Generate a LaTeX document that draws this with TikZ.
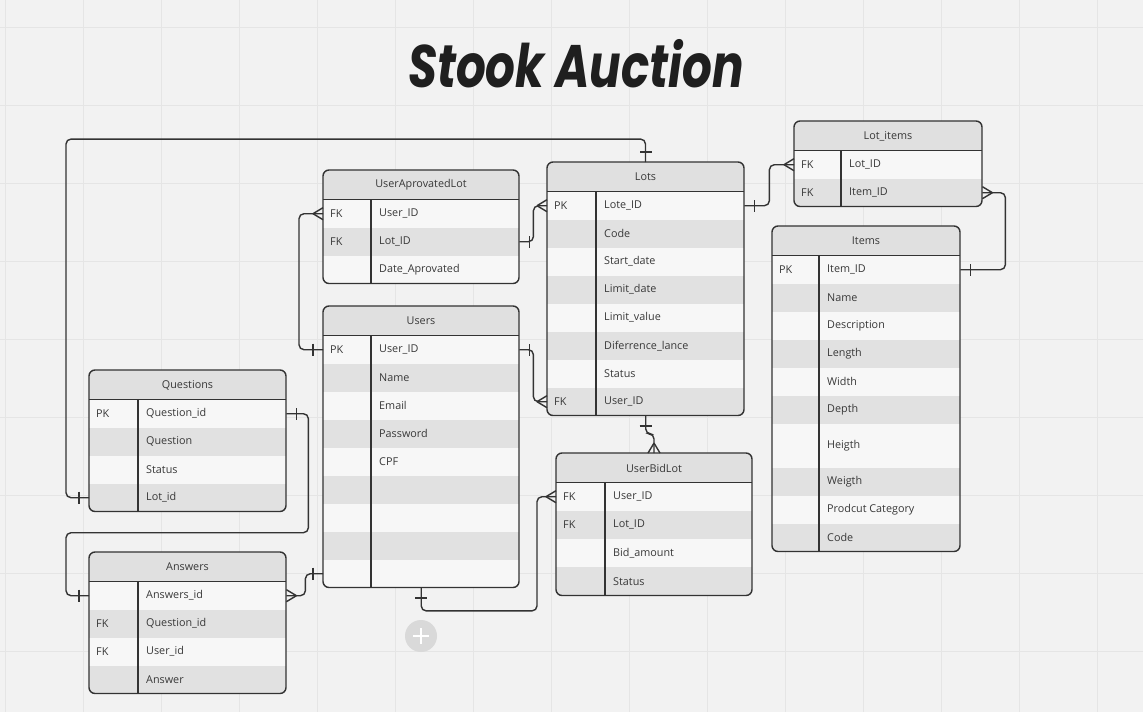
\documentclass[tikz,border=0pt]{standalone}
\usepackage{fontspec}
\setmainfont{Open Sans}
\newfontfamily\titlefont{Poppins}
\usetikzlibrary{positioning}
\definecolor{bgcol}{HTML}{F2F2F2}
\definecolor{gridcol}{HTML}{E5E5E5}
\definecolor{linecol}{HTML}{333333}
\definecolor{rowlight}{HTML}{F7F7F7}
\definecolor{rowdark}{HTML}{E1E1E1}
\definecolor{headcol}{HTML}{E0E0E0}
\definecolor{txtcol}{HTML}{383838}
\definecolor{btncol}{HTML}{D9D9D9}

\tikzset{
  erline/.style={draw=linecol, line width=1.4pt},
  conn/.style={draw=linecol, line width=1.4pt, rounded corners=5pt},
  erhead/.style={minimum height=29.5pt, inner sep=0pt, font=\fontsize{10.8}{12}\selectfont, text=txtcol},
  errow/.style={inner sep=0pt, draw=none},
  ertext/.style={anchor=west, inner sep=0pt, font=\fontsize{10.8}{12}\selectfont, text=txtcol},
  one/.pic={\draw[erline] (-10,-6) -- (-10,6);},
  many/.pic={\draw[erline] (-10,0) -- (0,-6) (-10,0) -- (0,6);},
}

% table: name, left, top, width, key column, title, rows key/field/height
\newcommand{\erdtable}[7]{%
  \pgfmathsetmacro\headbot{#3+29.5}%
  \xdef\rowtop{\headbot}%
  \foreach \k/\f/\h in {#7} {\pgfmathsetmacro\nexttop{\rowtop+\h}\xdef\rowtop{\nexttop}}%
  \let\tabbot\rowtop
  \begin{scope}
    \clip[rounded corners=6pt] (#2,#3) rectangle (#2+#4,\tabbot);
    \fill[headcol] (#2,#3) rectangle (#2+#4,\headbot);
    \xdef\rowtop{\headbot}%
    \foreach \k/\f/\h [count=\i] in {#7} {
      \ifodd\i\relax\def\rowcol{rowlight}\else\def\rowcol{rowdark}\fi
      \node[errow, anchor=north west, minimum width=#4, minimum height=\h, fill=\rowcol] (#1-\i) at (#2,\rowtop) {};
      \node[ertext] at ([xshift=7]#1-\i.west) {\k};
      \node[ertext] at ([xshift=#5+8]#1-\i.west) {\f};
      \pgfmathsetmacro\nexttop{\rowtop+\h}\xdef\rowtop{\nexttop}
    }
  \end{scope}
  \node[erhead, minimum width=#4] (#1) at (#2+#4/2,#3+15) {#6};
  \draw[erline, rounded corners=6pt] (#2,#3) rectangle (#2+#4,\tabbot);
  \draw[erline] (#2,\headbot) -- (#2+#4,\headbot);
  \draw[erline] (#2+#5,\headbot) -- (#2+#5,\tabbot);
}

\begin{document}
\begin{tikzpicture}[x=1pt, y=-1pt]
  \fill[bgcol] (0,0) rectangle (1143,712);
  \useasboundingbox (0,0) rectangle (1143,712);
  \foreach \g in {5,83,...,1097} \draw[gridcol, line width=1pt] (\g,0) -- (\g,712);
  \foreach \g in {27,105,...,651} \draw[gridcol, line width=1pt] (0,\g) -- (1143,\g);

  \node[font=\titlefont\bfseries\itshape\fontsize{60}{60}\selectfont, text=black!88] (title) at (576,64) {\scalebox{0.78}[1]{Stook Auction}};

  \erdtable{ual}{323}{170}{196}{48}{UserAprovatedLot}{FK/User\_ID/28, FK/Lot\_ID/28, /Date\_Aprovated/28}
  \erdtable{lots}{547}{162}{197}{49}{Lots}{PK/Lote\_ID/28, /Code/28, /Start\_date/28, /Limit\_date/28, /Limit\_value/28, /Diferrence\_lance/28, /Status/28, FK/User\_ID/28}
  \erdtable{users}{323}{306}{196}{48}{Users}{PK/User\_ID/28, /Name/28, /Email/28, /Password/28, /CPF/28, //28, //28, //28, //28}
  \erdtable{questions}{89}{370}{197}{49}{Questions}{PK/Question\_id/28, /Question/28, /Status/28, /Lot\_id/28}
  \erdtable{answers}{89}{552}{197}{49}{Answers}{/Answers\_id/28, FK/Question\_id/28, FK/User\_id/28, /Answer/28}
  \erdtable{ubl}{556}{453}{196}{49}{UserBidLot}{FK/User\_ID/28, FK/Lot\_ID/28, /Bid\_amount/28.5, /Status/28.5}
  \erdtable{lotitems}{794}{121}{188}{47}{Lot\_items}{FK/Lot\_ID/28, FK/Item\_ID/28}
  \erdtable{items}{772}{226}{188}{47}{Items}{PK/Item\_ID/28, /Name/28, /Description/28, /Length/28, /Width/28, /Depth/28, /Heigth/44, /Weigth/28, /Prodcut Category/28, /Code/28}

  % relations
  \draw[conn] (lots.north) -- ++(0,-23) -| ([xshift=-23]questions-4.west) -- (questions-4.west);
  \pic[rotate=-90] at (lots.north) {one};
  \pic at (questions-4.west) {one};

  \draw[conn] (ual-1.west) -- ++(-24,0) |- (users-1.west);
  \pic at (ual-1.west) {many};
  \pic at (users-1.west) {one};

  \draw[conn] (ual-2.east) -- ++(14,0) |- (lots-1.west);
  \pic[rotate=180] at (ual-2.east) {one};
  \pic at (lots-1.west) {many};

  \draw[conn] (users-1.east) -- ++(14,0) |- (lots-8.west);
  \pic[rotate=180] at (users-1.east) {one};
  \pic at (lots-8.west) {many};

  \draw[conn] (lots-1.east) -- ++(25,0) |- (lotitems-1.west);
  \pic[rotate=180] at (lots-1.east) {one};
  \pic at (lotitems-1.west) {many};

  \draw[conn] (lotitems-2.east) -- ++(23,0) |- (items-1.east);
  \pic[rotate=180] at (lotitems-2.east) {many};
  \pic[rotate=180] at (items-1.east) {one};

  \draw[conn] (lots-8.south) -- ++(0,18) -| (ubl.north);
  \pic[rotate=90] at (lots-8.south) {one};
  \pic[rotate=-90] at (ubl.north) {many};

  \draw[conn] (users-9.south) -- ++(0,23) -| ([xshift=-19]ubl-1.west) -- (ubl-1.west);
  \pic[rotate=90] at (users-9.south) {one};
  \pic at (ubl-1.west) {many};

  \draw[conn] (questions-1.east) -- ++(22,0) -- ++(0,119) -| ([xshift=-23]answers-1.west) -- (answers-1.west);
  \pic[rotate=180] at (questions-1.east) {one};
  \pic at (answers-1.west) {one};

  \draw[conn] (answers-1.east) -- ++(19,0) |- (users-9.west);
  \pic[rotate=180] at (answers-1.east) {many};
  \pic at (users-9.west) {one};

  % add button
  \node[circle, fill=btncol, minimum size=32pt, inner sep=0pt] (addbtn) at (421,636) {};
  \draw[white, line width=2pt] ([xshift=-8]addbtn.center) -- ([xshift=8]addbtn.center);
  \draw[white, line width=2pt] ([yshift=-8]addbtn.center) -- ([yshift=8]addbtn.center);
\end{tikzpicture}
\end{document}
